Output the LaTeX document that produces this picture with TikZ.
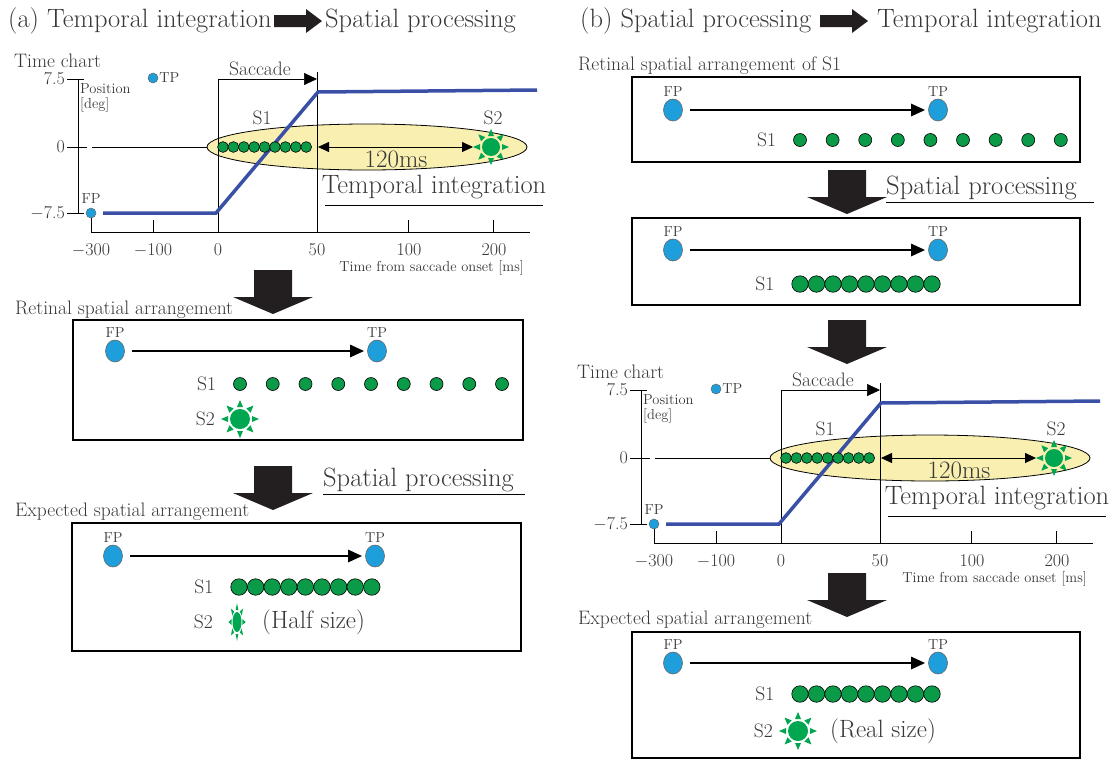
\documentclass[tikz,border=0pt]{standalone}
\usetikzlibrary{arrows.meta,positioning,shapes.geometric}

\definecolor{fpblue}{HTML}{1E9FDC}
\definecolor{dotgreen}{HTML}{0A9A48}
\definecolor{sungreen}{HTML}{00A650}
\definecolor{lineblue}{HTML}{3A50A6}
\definecolor{ovalyellow}{HTML}{F8EFB0}
\definecolor{txtgrey}{HTML}{383838}
\definecolor{arrowblack}{HTML}{231F20}

\newcommand{\fsbig}{\fontsize{26.5}{30}\selectfont}
\newcommand{\fslarge}{\fontsize{25}{29}\selectfont}
\newcommand{\fsmid}{\fontsize{19.5}{23}\selectfont}
\newcommand{\fstick}{\fontsize{18}{21}\selectfont}
\newcommand{\fssmall}{\fontsize{14.5}{17}\selectfont}

\tikzset{
  txt/.style={text=txtgrey, inner sep=0pt},
  head/.style={txt, font=\fsbig, anchor=west},
  seclabel/.style={txt, font=\fsmid, anchor=west},
  fpdot/.style={ellipse, draw=black!60, line width=0.6pt, fill=fpblue, minimum width=19pt, minimum height=22pt, inner sep=0pt},
  tpsmall/.style={circle, draw=black!60, line width=0.5pt, fill=fpblue, minimum size=10pt, inner sep=0pt},
  sdot/.style={circle, draw=black, line width=0.6pt, fill=dotgreen, minimum size=13pt, inner sep=0pt},
  tdot/.style={sdot, minimum size=16.5pt},
  cdot/.style={sdot, minimum size=10.8pt},
  panel/.style={draw=black, line width=1.8pt},
  move/.style={line width=2.6pt, -{Triangle[length=14pt,width=12pt]}, shorten <=7pt, shorten >=3pt},
  sun/.pic={
    \fill[sungreen] (0,0) circle [radius=#1];
    \foreach \a in {0,45,...,315}
      \fill[sungreen, rotate=\a] (#1+2,-3) -- (#1+9,0) -- (#1+2,3) -- cycle;
  },
  downarrow/.pic={
    \fill[arrowblack] (-19,0) -- (19,0) -- (19,27) -- (40,27) -- (0,44) -- (-40,27) -- (-19,27) -- cycle;
  },
  rightarrow/.pic={
    \fill[arrowblack] (0,-6) -- (32,-6) -- (32,-12) -- (48,0) -- (32,12) -- (32,6) -- (0,6) -- cycle;
  }
}

% time chart, #1 = name prefix, #2/#3 = shift
\newcommand{\timechart}[3]{%
\begin{scope}[shift={(#2,#3)}]
  \node[txt, font=\fsmid, anchor=west] (#1name) at (14,61) {Time chart};
  \draw[fill=ovalyellow, line width=0.8pt] (367,147) ellipse [x radius=160, y radius=23];
  % axes
  \draw[line width=0.7pt] (78,79) -- (78,213);
  \draw[line width=0.7pt] (67,79) -- (84,79) (67,213) -- (84,213) (67,147) -- (87,147);
  \draw[line width=0.5pt] (92,147) -- (207,147);
  \node[txt, font=\fstick, anchor=east] (#1yhi) at (65,79) {7.5};
  \node[txt, font=\fstick, anchor=east] (#1yz) at (65,147) {0};
  \node[txt, font=\fstick, anchor=east] (#1ylo) at (65,213) {$-$7.5};
  \node[txt, font=\fssmall, anchor=west] (#1pos) at (80,89) {Position};
  \node[txt, font=\fssmall, anchor=west] (#1deg) at (80,105) {[deg]};
  \draw[line width=0.7pt] (91,213) -- (91,233) (91,232) -- (530,232);
  \foreach \x in {153,218,317,408,493} \draw[line width=0.7pt] (\x,220) -- (\x,232);
  \foreach \x/\t in {91/$-$300,153/$-$100,218/0,317/50,409/100,494/200}
    \node[txt, font=\fstick] (#1x\x) at (\x,250) {\t};
  \node[txt, font=\fssmall, anchor=east] (#1xlab) at (524,268) {Time from saccade onset [ms]};
  % saccade window
  \draw[line width=0.5pt] (218,79) -- (218,232) (317,72) -- (317,232);
  \coordinate (#1on) at (218,79);
  \coordinate (#1off) at (317,79);
  \draw[line width=0.7pt, -{Triangle[length=13pt,width=12pt]}] (#1on) -- (#1off);
  \node[txt, font=\fsmid] (#1sac) at (260,69) {Saccade};
  % eye position
  \draw[lineblue, line width=3.5pt] (103,213) -- (216,213) -- (318,92) -- (537,90);
  \node[tpsmall] (#1fp) at (91,213) {};
  \node[txt, font=\fssmall, above=4pt of #1fp] (#1fpl) {FP};
  \node[tpsmall] (#1tp) at (153,78) {};
  \node[txt, font=\fssmall, right=1pt of #1tp] (#1tpl) {TP};
  % stimuli
  \foreach \i in {0,...,8} \node[cdot] (#1d\i) at (223+10.4*\i,147) {};
  \node[txt, font=\fsmid] (#1s1) at (262,118) {S1};
  \pic at (491,147) {sun=9};
  \coordinate (#1s2) at (491,147);
  \node[txt, font=\fsmid] (#1s2l) at (493,118) {S2};
  \coordinate (#1t50) at (318,147);
  \draw[line width=0.8pt, {Triangle[length=11pt,width=10pt]}-{Triangle[length=11pt,width=10pt]}, shorten >=18pt] (#1t50) -- (#1s2);
  \node[txt, font=\fslarge] (#1dt) at (396,159) {120ms};
  \node[txt, font=\fsbig] (#1ti) at (434,187) {Temporal integration};
  \draw[line width=0.7pt] (325,205) -- (543,205);
\end{scope}}

\begin{document}
\begin{tikzpicture}[x=1pt,y=-1pt]
\useasboundingbox (0,0) rectangle (1119,761);

% ---- (a) ----
\node[head] (ta1) at (8,21) {(a) Temporal integration};
\pic at (274,21) {rightarrow};
\node[head] (ta2) at (325,21) {Spatial processing};

\timechart{ca}{0}{0}

\pic at (273,270) {downarrow};
\node[seclabel] (aret) at (15,310) {Retinal spatial arrangement};
\draw[panel] (73,320) rectangle (523,440);
\node[fpdot] (afp1) at (115,351) {};
\node[fpdot] (atp1) at (377,351) {};
\node[txt, font=\fssmall, above=2pt of afp1] (afpl1) {FP};
\node[txt, font=\fssmall, above=2pt of atp1] (atpl1) {TP};
\draw[move] (afp1) -- (atp1);
\foreach \i in {0,...,8} \node[sdot] (as\i) at (240+32.75*\i,384) {};
\node[txt, font=\fsmid, left=17pt of as0] (as1l) {S1};
\pic at (240,419) {sun=10};
\node[txt, font=\fsmid, anchor=east] (as2l) at (215,419) {S2};

\pic at (273,466) {downarrow};
\node[head] (asp) at (323,480) {Spatial processing};
\draw[line width=0.7pt] (323,494) -- (525,494);

\node[seclabel] (aexp) at (15,512) {Expected spatial arrangement};
\draw[panel] (72,523) rectangle (521,651);
\node[fpdot] (afp2) at (113,556) {};
\node[fpdot] (atp2) at (375,556) {};
\node[txt, font=\fssmall, above=2pt of afp2] (afpl2) {FP};
\node[txt, font=\fssmall, above=2pt of atp2] (atpl2) {TP};
\draw[move] (afp2) -- (atp2);
\foreach \i in {0,...,8} \node[tdot] (at\i) at (239+16.6*\i,587) {};
\node[txt, font=\fsmid, left=17pt of at0] (at1l) {S1};
\pic[xscale=0.45] at (237,622) {sun=10};
\node[txt, font=\fsmid, anchor=east] (at2l) at (213,622) {S2};
\node[txt, font=\fslarge, anchor=west] (ahalf) at (262,622) {(Half size)};

% ---- (b) ----
\node[head] (tb1) at (580,21) {(b) Spatial processing};
\pic at (820,21) {rightarrow};
\node[head] (tb2) at (877,21) {Temporal integration};

\node[seclabel] (bret) at (578,66) {Retinal spatial arrangement of S1};
\draw[panel] (632,77) rectangle (1080,162);
\node[fpdot] (bfp1) at (673,110) {};
\node[fpdot] (btp1) at (938,110) {};
\node[txt, font=\fssmall, above=2pt of bfp1] (bfpl1) {FP};
\node[txt, font=\fssmall, above=2pt of btp1] (btpl1) {TP};
\draw[move] (bfp1) -- (btp1);
\foreach \i in {0,...,8} \node[sdot] (bs\i) at (800+32.6*\i,140) {};
\node[txt, font=\fsmid, left=17pt of bs0] (bs1l) {S1};

\pic at (847,170) {downarrow};
\node[head] (bsp) at (886,188) {Spatial processing};
\draw[line width=0.7pt] (886,202) -- (1094,202);

\draw[panel] (632,218) rectangle (1080,305);
\node[fpdot] (bfp2) at (673,250) {};
\node[fpdot] (btp2) at (938,250) {};
\node[txt, font=\fssmall, above=2pt of bfp2] (bfpl2) {FP};
\node[txt, font=\fssmall, above=2pt of btp2] (btpl2) {TP};
\draw[move] (bfp2) -- (btp2);
\foreach \i in {0,...,8} \node[tdot] (bt\i) at (800+16.5*\i,284) {};
\node[txt, font=\fsmid, left=17pt of bt0] (bt1l) {S1};

\pic at (847,320) {downarrow};
\timechart{cb}{563}{311}
\pic at (847,573) {downarrow};

\node[seclabel] (bexp) at (578,620) {Expected spatial arrangement};
\draw[panel] (632,632) rectangle (1080,758);
\node[fpdot] (bfp3) at (673,663) {};
\node[fpdot] (btp3) at (938,663) {};
\node[txt, font=\fssmall, above=2pt of bfp3] (bfpl3) {FP};
\node[txt, font=\fssmall, above=2pt of btp3] (btpl3) {TP};
\draw[move] (bfp3) -- (btp3);
\foreach \i in {0,...,8} \node[tdot] (bu\i) at (800+16.5*\i,694) {};
\node[txt, font=\fsmid, left=17pt of bu0] (bu1l) {S1};
\pic at (798,731) {sun=10};
\node[txt, font=\fsmid, anchor=east] (bu2l) at (773,731) {S2};
\node[txt, font=\fslarge, anchor=west] (breal) at (830,731) {(Real size)};
\end{tikzpicture}
\end{document}
